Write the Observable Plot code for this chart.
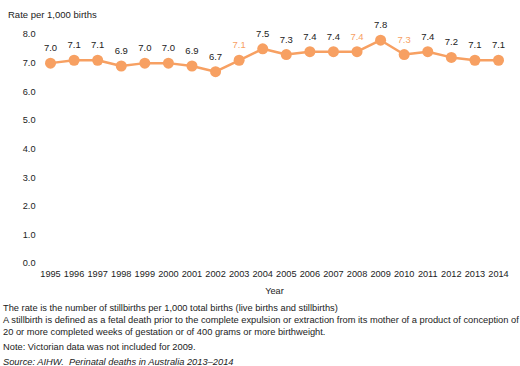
<!DOCTYPE html>
<html><head><meta charset="utf-8">
<script src="https://cdn.jsdelivr.net/npm/d3@7"></script>
<script src="https://cdn.jsdelivr.net/npm/@observablehq/plot@0.6"></script>
<style>
body{margin:0;background:#fff;font-family:"Liberation Sans",Arial,sans-serif;color:#222;position:relative;}
#title{position:absolute;top:9px;left:8px;font-size:9.5px;line-height:12px;}
#cap{font-size:9.3px;padding-left:3px;line-height:12px;white-space:nowrap;margin-top:4px;}
#cap p{margin:0;}
</style></head><body>
<div id="title">Rate per 1,000 births</div>
<div id="chart"></div>
<div id="cap">
<p>The rate is the number of stillbirths per 1,000 total births (live births and stillbirths)</p>
<p>A stillbirth is defined as a fetal death prior to the complete expulsion or extraction from its mother of a product of conception of</p>
<p>20 or more completed weeks of gestation or of 400 grams or more birthweight.</p>
<p style="margin-top:3px">Note: Victorian data was not included for 2009.</p>
<p style="margin-top:3px;font-style:italic">Source: AIHW.&nbsp; Perinatal deaths in Australia 2013–2014</p>
</div>
<script>
const years = [1995,1996,1997,1998,1999,2000,2001,2002,2003,2004,2005,2006,2007,2008,2009,2010,2011,2012,2013,2014];
const rates = [7.0,7.1,7.1,6.9,7.0,7.0,6.9,6.7,7.1,7.5,7.3,7.4,7.4,7.4,7.8,7.3,7.4,7.2,7.1,7.1];
const highlighted = [2003,2008,2010];
const data = years.map((y,i)=>({year:y, rate:rates[i], hl:highlighted.includes(y)}));
const orange = "#f7a062";
const plot = Plot.plot({
  width:520, height:298,
  marginLeft:50, marginRight:22, marginTop:34, marginBottom:35,
  style:{fontFamily:"Liberation Sans, Arial, sans-serif", fontSize:"9.2px", color:"#222"},
  x:{domain:[1995,2014], ticks:years, tickFormat:"d", tickSize:0, tickPadding:7, label:"Year", labelAnchor:"center", labelArrow:"none", labelOffset:30},
  y:{domain:[0,8], ticks:[0,1,2,3,4,5,6,7,8], tickFormat:".1f", tickSize:0, tickPadding:15, label:null},
  marks:[
    Plot.line(data,{x:"year",y:"rate",stroke:orange,strokeWidth:2.5}),
    Plot.dot(data,{x:"year",y:"rate",r:5.5,fill:orange,stroke:"none"}),
    Plot.text(data,{x:"year",y:"rate",text:d=>d.rate.toFixed(1),dy:-15,fill:d=>d.hl?orange:"#222",fontSize:9.5})
  ]
});
document.getElementById("chart").append(plot);
</script>
</body></html>
